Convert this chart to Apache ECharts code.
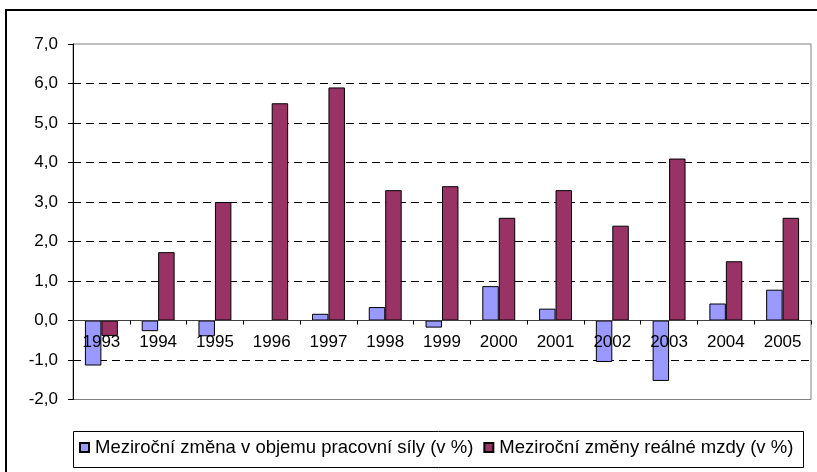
<!DOCTYPE html>
<html>
<head>
<meta charset="utf-8">
<script src="https://cdn.jsdelivr.net/npm/echarts@6/dist/echarts.min.js"></script>
<style>
html,body{margin:0;padding:0;background:#fff;}
#chart{width:817px;height:472px;}
</style>
</head>
<body>
<div id="chart"></div>
<script>
const years = ['1993','1994','1995','1996','1997','1998','1999','2000','2001','2002','2003','2004','2005'];
const laborChange = [-1.14, -0.27, -0.40, 0.0, 0.17, 0.34, -0.18, 0.87, 0.30, -1.05, -1.53, 0.43, 0.78];
const wageChange = [-0.39, 1.73, 3.0, 5.5, 5.9, 3.3, 3.4, 2.6, 3.3, 2.4, 4.1, 1.5, 2.6];
const seriesNames = ['Meziroční změna v objemu pracovní síly (v %)', 'Meziroční změny reálné mzdy (v %)'];
const yMin = -2, yMax = 7, yStep = 1;

const FONT = "'Liberation Sans', Arial, sans-serif";
const W = 817, H = 472;
const gridTop = 44, gridBottom = 72.5;
const plotH = H - gridTop - gridBottom;
// place the category axis on the zero line of the value scale
const zeroOffset = -((0 - yMin) / (yMax - yMin)) * plotH;

const chart = echarts.init(document.getElementById('chart'), null, {renderer: 'canvas'});
chart.setOption({
  animation: false,
  backgroundColor: '#ffffff',
  textStyle: {fontFamily: FONT},
  graphic: [
    {type: 'rect', shape: {x: 6, y: 10, width: 900, height: 600}, style: {fill: 'none', stroke: '#000', lineWidth: 2}, z: 0},
    {type: 'rect', shape: {x: 73.5, y: 431.5, width: 730, height: 36}, style: {fill: '#fff', stroke: '#000', lineWidth: 1}, z: 1}
  ],
  grid: {left: 73, top: gridTop, right: 6, bottom: gridBottom, show: true, borderColor: '#808080', borderWidth: 1, backgroundColor: 'transparent'},
  legend: {
    left: 79, top: 438, padding: 0, itemWidth: 9, itemHeight: 9, itemGap: 10,
    icon: 'rect', z: 5,
    textStyle: {fontSize: 18.5, color: '#000', fontFamily: FONT, padding: [0, 0, 0, 1]},
    data: seriesNames
  },
  xAxis: {
    type: 'category', data: years, z: 3,
    offset: zeroOffset,
    axisLine: {onZero: false, lineStyle: {color: '#404040', width: 1}},
    axisTick: {show: true, alignWithLabel: false, length: 4, lineStyle: {color: '#000'}},
    axisLabel: {fontSize: 17, color: '#000', margin: 13, fontFamily: FONT, interval: 0},
    splitLine: {show: false}
  },
  yAxis: {
    type: 'value', min: yMin, max: yMax, interval: yStep,
    axisLine: {show: true, lineStyle: {color: '#000', width: 1}},
    axisTick: {show: true, length: 5, lineStyle: {color: '#000'}},
    axisLabel: {fontSize: 17, color: '#000', margin: 15, fontFamily: FONT,
      formatter: v => v.toFixed(1).replace('.', ',')},
    splitLine: {show: true, showMinLine: false, showMaxLine: false, lineStyle: {color: '#000', type: [8, 5], width: 1}}
  },
  series: [
    {name: seriesNames[0], type: 'bar', data: laborChange, barGap: '0%', barCategoryGap: '42%',
     itemStyle: {color: '#9999FF', borderColor: '#000', borderWidth: 1}},
    {name: seriesNames[1], type: 'bar', data: wageChange, barGap: '0%', barCategoryGap: '42%',
     itemStyle: {color: '#993366', borderColor: '#000', borderWidth: 1}}
  ]
});
</script>
</body>
</html>
